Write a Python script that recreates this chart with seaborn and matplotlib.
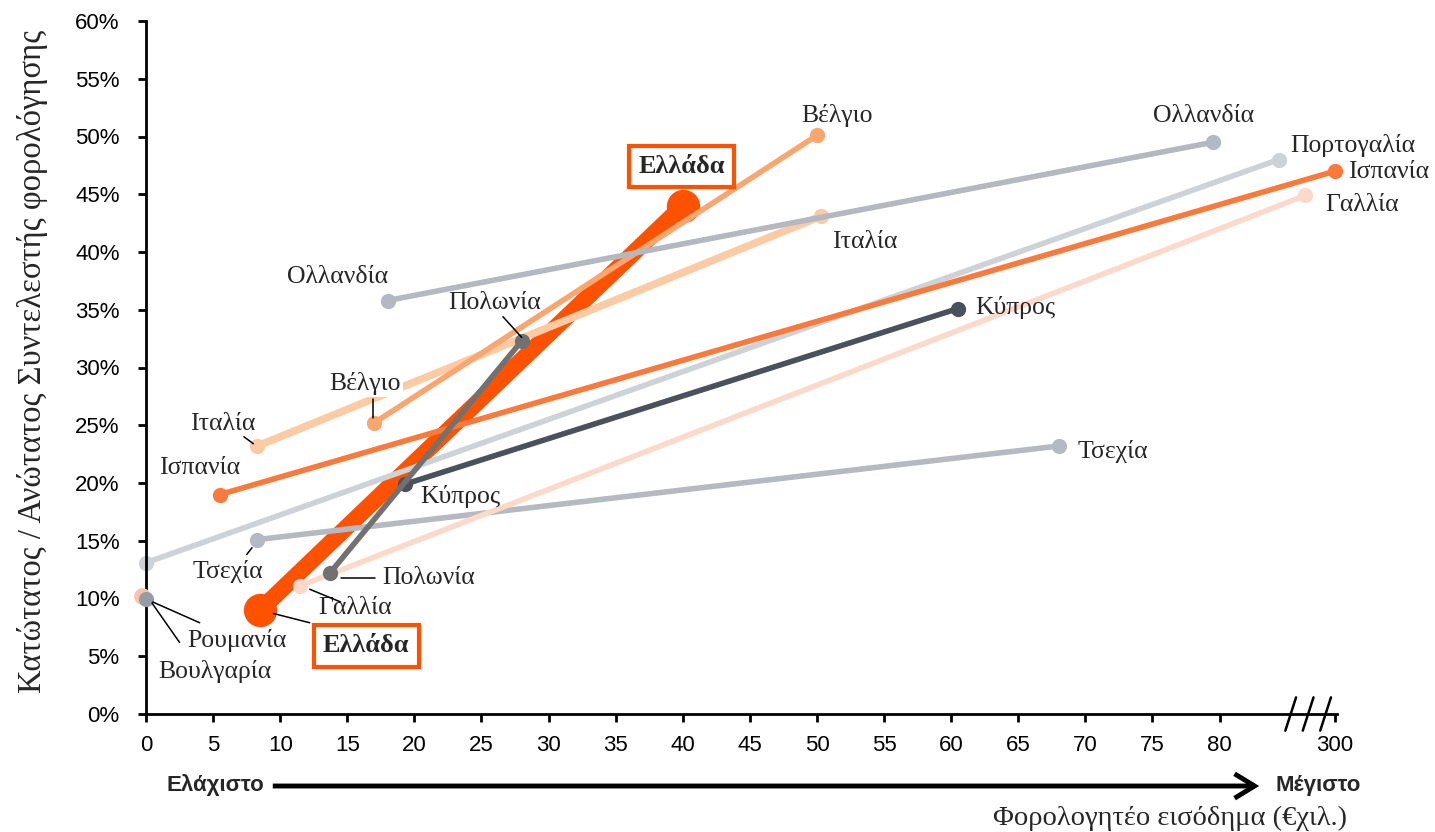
import matplotlib
matplotlib.use("Agg")
import matplotlib.pyplot as plt
import matplotlib.transforms as mtrans
import seaborn as sns
import pandas as pd
from matplotlib.ticker import FuncFormatter

# ---------------- data ----------------
countries = ["Ελλάδα", "Βέλγιο", "Ολλανδία", "Πορτογαλία", "Ισπανία",
             "Γαλλία", "Ιταλία", "Κύπρος", "Πολωνία", "Τσεχία"]
income_min = [8.5, 17.0, 18.0, 0.0, 5.5, 11.5, 8.3, 19.3, 13.7, 8.3]      # €k
income_max = [40.0, 50.0, 79.5, 84.4, 300.0, 86.4, 50.3, 60.5, 28.0, 68.0]
rate_min = [9.0, 25.2, 35.8, 13.1, 19.0, 11.1, 23.2, 19.9, 12.2, 15.1]     # %
rate_max = [44.0, 50.1, 49.5, 48.0, 47.0, 44.9, 43.1, 35.1, 32.3, 23.2]
flat_countries = ["Βουλγαρία", "Ρουμανία"]
flat_income = [0.0, 0.0]
flat_rate = [10.2, 10.0]

x_ticks = [0, 5, 10, 15, 20, 25, 30, 35, 40, 45, 50, 55, 60, 65, 70, 75, 80, 300]
y_ticks = [0, 5, 10, 15, 20, 25, 30, 35, 40, 45, 50, 55, 60]

# axis break: values above the break are compressed to the last position
BREAK_POS = 88.6
def xpos(v):
    return BREAK_POS if v >= 200 else v

colors = {
    "Ελλάδα": "#FF5200", "Βέλγιο": "#FBA56F", "Ολλανδία": "#B3B8C1",
    "Πορτογαλία": "#CDD2D7", "Ισπανία": "#FB7A3B", "Γαλλία": "#FDD9C9",
    "Ιταλία": "#FDCBA3", "Κύπρος": "#4A505C", "Πολωνία": "#717171",
    "Τσεχία": "#B5B9C1", "Βουλγαρία": "#FDC3AA", "Ρουμανία": "#959CA6",
}

rows = []
for c, a, b, ra, rb in zip(countries, income_min, income_max, rate_min, rate_max):
    rows.append({"country": c, "x": xpos(a), "rate": ra / 100})
    rows.append({"country": c, "x": xpos(b), "rate": rb / 100})
df = pd.DataFrame(rows)

# ---------------- figure ----------------
sns.set_style("ticks")
plt.rcParams["font.family"] = ["Liberation Sans", "DejaVu Sans"]
SERIF = ["Liberation Serif", "DejaVu Serif"]

fig = plt.figure(figsize=(14.35, 8.32), dpi=100)
ax = fig.add_axes([146 / 1435, 1 - 714 / 832, (1337 - 146) / 1435, (714 - 21) / 832])

draw_order = ["Ελλάδα", "Ιταλία", "Βέλγιο", "Ολλανδία", "Τσεχία", "Γαλλία",
              "Πορτογαλία", "Ισπανία", "Κύπρος", "Πολωνία"]
for c in draw_order:
    sub = df[df.country == c]
    if c == "Ελλάδα":
        lw, ms = 12, 24
    elif c == "Ιταλία":
        lw, ms = 5.5, 11
    else:
        lw, ms = 4.0, 11
    sns.lineplot(data=sub, x="x", y="rate", color=colors[c], linewidth=lw,
                 marker="o", markersize=ms, markeredgewidth=0,
                 solid_capstyle="butt", ax=ax, clip_on=False, sort=False)

for c, xi, r in zip(flat_countries, flat_income, flat_rate):
    ax.plot([xi - 0.3 if c == "Βουλγαρία" else xi], [r / 100], "o",
            color=colors[c], markersize=12 if c == "Βουλγαρία" else 11,
            markeredgewidth=0, clip_on=False, zorder=5)

ax.set_xlim(0, 88.75)
ax.set_ylim(0, 0.60)
ax.set_xticks([xpos(v) for v in x_ticks])
ax.set_xticklabels([str(v) for v in x_ticks])
ax.set_yticks([v / 100 for v in y_ticks])
ax.yaxis.set_major_formatter(FuncFormatter(lambda v, p: f"{round(v * 100):d}%"))
ax.tick_params(axis="both", labelsize=16, length=6, width=2, color="black",
               labelcolor="black", direction="out")
ax.tick_params(axis="x", pad=9)
ax.tick_params(axis="y", pad=13)
for s in ["top", "right"]:
    ax.spines[s].set_visible(False)
for s in ["left", "bottom"]:
    ax.spines[s].set_linewidth(2)
    ax.spines[s].set_color("black")
ax.set_xlabel("")
ax.set_ylabel("")

# axis break marks
trans = mtrans.blended_transform_factory(ax.transData, ax.transAxes)
for xs in [85.3, 86.6, 87.9]:
    ax.plot([xs - 0.4, xs + 0.4], [-0.024, 0.024], color="black", lw=1.8,
            transform=trans, clip_on=False, zorder=8)

# ---------------- labels ----------------
LFS = 18.5
def lab(text, x, y, ha="center", va="center", leader=None, bg=False):
    kw = {}
    if bg:
        kw["bbox"] = dict(facecolor="white", edgecolor="none", pad=1.5)
    ax.text(x, y / 100, text, ha=ha, va=va, fontsize=LFS, family=SERIF,
            zorder=9, clip_on=False, **kw)
    if leader is not None:
        (x1, y1), (x2, y2) = leader
        ax.plot([x1, x2], [y1 / 100, y2 / 100], color="black", lw=1.1,
                zorder=9, clip_on=False)

lab("Ολλανδία", 14.3, 37.8)
lab("Βέλγιο", 16.3, 28.6, leader=((16.9, 27.3), (16.9, 25.6)), bg=True)
lab("Ιταλία", 5.7, 25.1, leader=((7.3, 24.0), (8.0, 23.4)))
lab("Ισπανία", 4.0, 21.3)
lab("Πολωνία", 26.0, 35.6, leader=((26.6, 34.4), (28.0, 32.6)))
lab("Κύπρος", 23.4, 18.8)
lab("Τσεχία", 6.1, 12.3, leader=((7.5, 13.8), (7.9, 14.4)))
lab("Πολωνία", 17.6, 11.8, ha="left", leader=((14.5, 11.8), (17.1, 11.8)))
lab("Γαλλία", 15.6, 9.2, leader=((12.2, 10.8), (14.5, 9.7)))
lab("Ρουμανία", 6.8, 6.4, leader=((0.5, 9.7), (4.0, 7.9)))
lab("Βουλγαρία", 5.1, 3.7, leader=((0.45, 9.6), (2.5, 6.2)))
ax.plot([9.5, 12.2], [0.087, 0.079], color="black", lw=1.1, zorder=9)

lab("Βέλγιο", 51.5, 51.8)
lab("Ιταλία", 51.1, 40.9, ha="left")
lab("Ολλανδία", 78.8, 51.8)
lab("Πορτογαλία", 85.3, 49.2, ha="left")
lab("Ισπανία", 89.6, 46.9, ha="left")
lab("Γαλλία", 87.9, 44.1, ha="left")
lab("Κύπρος", 61.8, 35.2, ha="left")
lab("Τσεχία", 69.4, 22.7, ha="left")

box = dict(boxstyle="square,pad=0.35", facecolor="white", edgecolor="#FF5200", linewidth=3)
ax.text(39.9, 0.474, "Ελλάδα", ha="center", va="center", fontsize=19,
        fontweight="bold", family=SERIF, bbox=box, zorder=10)
ax.text(16.4, 0.059, "Ελλάδα", ha="center", va="center", fontsize=19,
        fontweight="bold", family=SERIF, bbox=box, zorder=10)

# axis titles
fig.text(33 / 1435, 1 - 361 / 832, "Κατώτατος / Ανώτατος Συντελεστής φορολόγησης",
         rotation=90, ha="center", va="center", fontsize=23.5, family=SERIF)
fig.text(1170 / 1435, 1 - 818 / 832, "Φορολογητέο εισόδημα (€χιλ.)",
         ha="center", va="center", fontsize=20.5, family=SERIF)

# min -> max arrow
fig.text(215 / 1435, 1 - 785 / 832, "Ελάχιστο", ha="center", va="center",
         fontsize=16, fontweight="bold")
fig.text(1318 / 1435, 1 - 785 / 832, "Μέγιστο", ha="center", va="center",
         fontsize=16, fontweight="bold")
fig.patches.append(matplotlib.patches.FancyArrowPatch(
    (270 / 1435, 1 - 786 / 832), (1262 / 1435, 1 - 786 / 832),
    transform=fig.transFigure, arrowstyle="->,head_length=0.9,head_width=0.55",
    color="black", lw=3.5, mutation_scale=16, capstyle="butt", joinstyle="miter"))

fig.savefig("out.png", dpi=100)
